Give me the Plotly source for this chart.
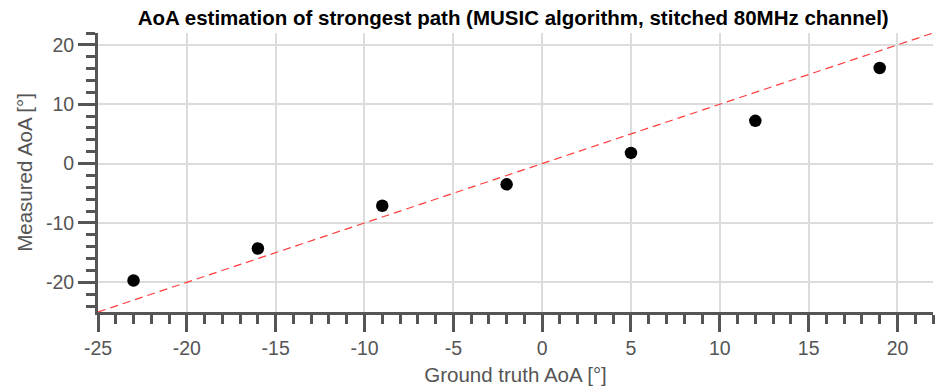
import plotly.graph_objects as go

# Ground-truth angles of arrival and the MUSIC estimates of the strongest path
ground_truth = [-23, -16, -9, -2, 5, 12, 19]
measured = [-19.7, -14.3, -7.1, -3.5, 1.8, 7.2, 16.1]

# Ideal estimator reference (measured == ground truth)
ref_x = [-25, 22]
ref_y = [-25, 22]

# Major tick positions and labels (plain hyphen-minus labels)
x_ticks = [-25, -20, -15, -10, -5, 0, 5, 10, 15, 20]
x_tick_labels = ["-25", "-20", "-15", "-10", "-5", "0", "5", "10", "15", "20"]
y_ticks = [-20, -10, 0, 10, 20]
y_tick_labels = ["-20", "-10", "0", "10", "20"]

axis_color = "#555555"
font_family = "Liberation Sans, Arial, sans-serif"

fig = go.Figure()

fig.add_trace(go.Scatter(
    x=ref_x, y=ref_y, mode="lines",
    line=dict(color="#ff3b3b", width=1.2, dash="8px,5px"),
    hoverinfo="skip", showlegend=False,
))

fig.add_trace(go.Scatter(
    x=ground_truth, y=measured, mode="markers",
    marker=dict(color="black", size=12.5),
    showlegend=False,
))


def axis_style(title, tickvals, ticktext, minor_dtick, standoff):
    return dict(
        title=dict(text=title, font=dict(size=20.5, color=axis_color, family=font_family),
                   standoff=standoff),
        range=[-25, 22],
        tickmode="array", tickvals=tickvals, ticktext=ticktext,
        ticks="outside", ticklen=17, tickwidth=3, tickcolor=axis_color,
        tickfont=dict(size=19.5, color=axis_color, family=font_family),
        showline=True, linewidth=3, linecolor=axis_color,
        showgrid=True, gridcolor="#dcdcdc", gridwidth=2,
        zeroline=False,
        minor=dict(tickmode="linear", tick0=0, dtick=minor_dtick, ticks="outside",
                   ticklen=9, tickwidth=3, tickcolor=axis_color, showgrid=False),
        fixedrange=True,
    )


fig.update_layout(
    width=936, height=387,
    margin=dict(l=98, r=3, t=33, b=75),
    paper_bgcolor="white", plot_bgcolor="white",
    title=dict(
        text="<b>AoA estimation of strongest path (MUSIC algorithm, stitched 80MHz channel)</b>",
        font=dict(size=20.5, color="black", family=font_family),
        x=0.5483, xanchor="center", y=0.953, yanchor="middle",
    ),
    xaxis=axis_style("Ground truth AoA [°]", x_ticks, x_tick_labels, 1, 10),
    yaxis=axis_style("Measured AoA [°]", y_ticks, y_tick_labels, 2, 8),
)

fig.write_html("out.html")
